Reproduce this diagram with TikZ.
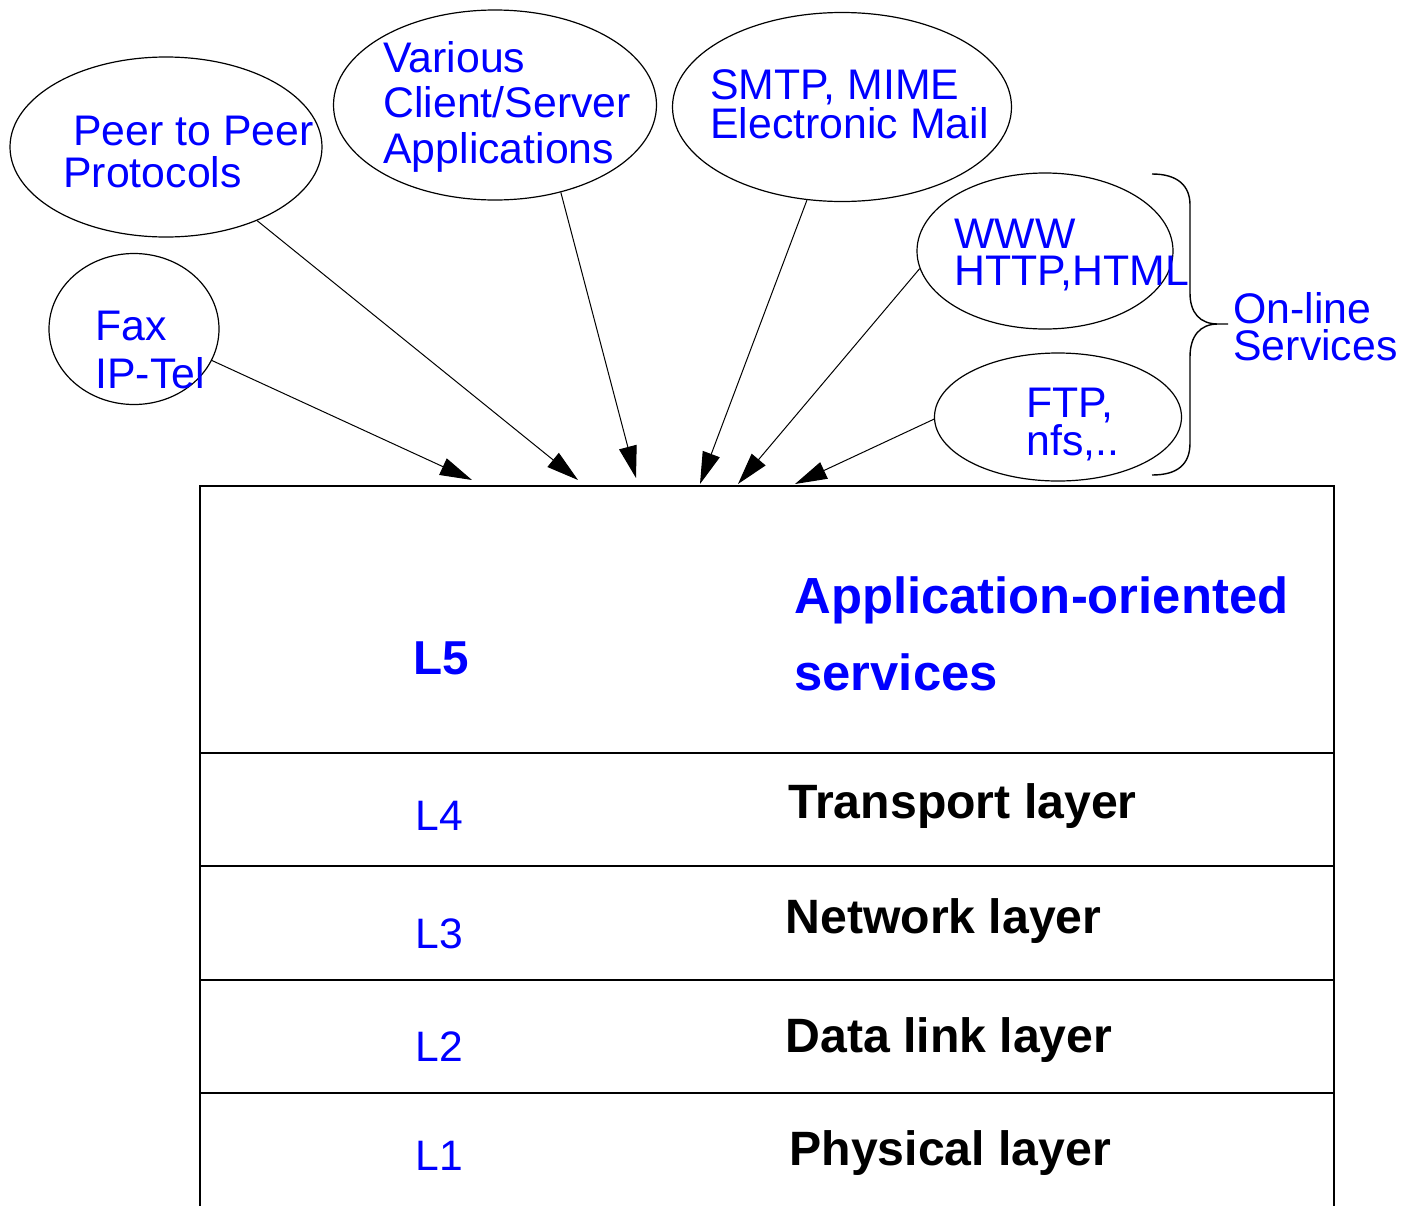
\documentclass[tikz,border=0pt]{standalone}
\usepackage{fontspec}
\setmainfont{Liberation Sans}
\usetikzlibrary{arrows.meta,shapes.geometric}
\tikzset{
  bubble/.style={draw, ellipse, line width=0.6pt, inner sep=0pt},
  btext/.style={anchor=base west, align=left, text=blue, inner sep=0pt},
  layerrow/.style={draw, rectangle, line width=1pt, minimum width=567pt, inner sep=0pt},
  lnum/.style={anchor=base west, inner sep=0pt, text=blue, font=\fontsize{21.3}{24}\selectfont},
  lnumbold/.style={anchor=base west, inner sep=0pt, text=blue, font=\bfseries\fontsize{23.8}{26}\selectfont},
  lname/.style={anchor=base west, inner sep=0pt, text=black, font=\bfseries\fontsize{24.1}{26}\selectfont},
  conn/.style={line width=0.5pt, -{Triangle[length=16pt,width=9pt]}},
}
\newcommand\ellfont[1]{\fontsize{21.4}{#1}\selectfont}
\begin{document}
\begin{tikzpicture}[x=0.5pt,y=-0.5pt]
\useasboundingbox (0,0) rectangle (1403,1205);
\clip (0,0) rectangle (1403,1205);

% ellipses
\node[bubble, minimum width=156pt, minimum height=90pt] (peer) at (166,147) {};
\node[bubble, minimum width=85pt, minimum height=75.5pt] (fax) at (134,329) {};
\node[bubble, minimum width=161.5pt, minimum height=95pt] (various) at (495,105) {};
\node[bubble, minimum width=169.5pt, minimum height=94.5pt] (smtp) at (842,107) {};
\node[bubble, minimum width=128pt, minimum height=78pt] (www) at (1045,251) {};
\node[bubble, minimum width=123.5pt, minimum height=64pt] (ftp) at (1058,417) {};

% ellipse texts (anchor = baseline of last line)
\node[btext, font=\ellfont{21pt}] (peertxt) at (63,187) {\hspace*{5pt}Peer to Peer\\Protocols};
\node[btext, font=\ellfont{24pt}] (faxtxt) at (95,388) {Fax\\IP-Tel};
\node[btext, font=\ellfont{22.75pt}] (vartxt) at (383,163) {Various\\Client/Server\\Applications};
\node[btext, font=\ellfont{18pt}] (smtptxt) at (710,138) {SMTP, MIME\\Electronic Mail};
\node[btext, font=\ellfont{18.5pt}] (wwwtxt) at (954,285) {WWW\\HTTP,HTML};
\node[btext, font=\ellfont{19pt}] (ftptxt) at (1026,455) {FTP,\\nfs,..};
\node[btext, font=\ellfont{18.5pt}] (onltxt) at (1233,360) {On-line\\Services};

% brace
\draw[line width=0.7pt] (1152,174) .. controls (1178,174) and (1190,186) .. (1190,205)
  -- (1190,293) .. controls (1190,313) and (1200,324) .. (1218,324) -- (1228,324)
  (1218,324) .. controls (1200,324) and (1190,336) .. (1190,357)
  -- (1190,443) .. controls (1190,464) and (1178,475) .. (1152,475);

% layer rows
\node[layerrow, minimum height=133.5pt] (r5) at (767,619.5) {};
\node[layerrow, minimum height=56.5pt] (r4) at (767,809.5) {};
\node[layerrow, minimum height=57pt] (r3) at (767,923) {};
\node[layerrow, minimum height=56.5pt] (r2) at (767,1036.5) {};
\node[layerrow, minimum height=68.5pt] (r1) at (767,1161.5) {};

% layer texts
\node[lnumbold] (l5) at (413,674) {L5};
\node[anchor=base west, inner sep=0pt, text=blue, align=left, font=\bfseries\fontsize{25.4}{38.5pt}\selectfont] (apptxt) at (794,690) {Application-oriented\\services};
\node[lnum] (l4) at (415,830) {L4};
\node[lname] (trtxt) at (788,818) {Transport layer};
\node[lnum] (l3) at (415,948) {L3};
\node[lname] (nwtxt) at (785,933) {Network layer};
\node[lnum] (l2) at (415,1061) {L2};
\node[lname] (dltxt) at (785,1052) {Data link layer};
\node[lnum] (l1) at (415,1170) {L1};
\node[lname] (phtxt) at (789,1165) {Physical layer};

% arrow tips
\coordinate (t1) at (472,480);
\coordinate (t2) at (578,480);
\coordinate (t3) at (636,478);
\coordinate (t4) at (700,484);
\coordinate (t5) at (738,484);
\coordinate (t6) at (795,484);

\draw[conn] (fax.-22) -- (t1);
\draw[conn] (peer) -- (t2);
\draw[conn] (various.-53) -- (t3);
\draw[conn] (smtp) -- (t4);
\draw[conn] (www.188) -- (t5);
\draw[conn] (ftp.181) -- (t6);
\end{tikzpicture}
\end{document}
